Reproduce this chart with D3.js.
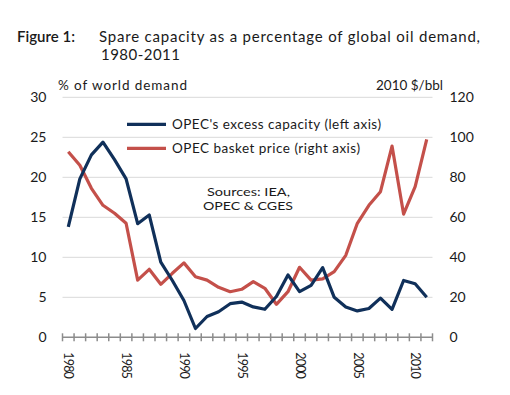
<!DOCTYPE html>
<html>
<head>
<meta charset="utf-8">
<script src="https://cdn.jsdelivr.net/npm/d3@7"></script>
<style>
  body { margin: 0; background: #fff; }
  text { font-family: Lato, 'Open Sans', sans-serif; fill: #1a1a1a; }
</style>
</head>
<body>
<script>
// Donnees
var years = d3.range(1980, 2012)
var excessCapacity = [13.8, 19.8, 22.8, 24.4, 22.2, 19.8, 14.2, 15.3, 9.4, 7.1, 4.6,
    1.1, 2.6, 3.2, 4.2, 4.4, 3.8, 3.5, 5.1, 7.8, 5.7, 6.5, 8.7, 5.0, 3.8, 3.3, 3.6, 4.9, 3.5, 7.1, 6.7, 5.0]
var basketPrice = [92.8, 86, 74.5, 66, 62, 57, 28.6, 34, 26.5, 32, 37.2,
    30.3, 28.6, 25, 22.8, 24, 27.8, 24.5, 16.5, 22.8, 35, 28.6, 29.2, 32.8, 41, 57, 66, 72.8, 95.6, 61.6, 75.3, 99]
var leftTicks = [0, 5, 10, 15, 20, 25, 30]
var rightTicks = [0, 20, 40, 60, 80, 100, 120]
var labelYears = [1980, 1985, 1990, 1995, 2000, 2005, 2010]
var legendItems = ["OPEC's excess capacity (left axis)", 'OPEC basket price (right axis)']
var legendLengths = [209, 188]

// Couleurs et dimensions
var colours = {
    blue: '#10305a',
    red: '#c4504a',
    grid: '#d9d9d9',
    axis: '#8c8c8c'
}

var width = 510
var height = 395
var plot = { left: 62.5, right: 432.5, top: 97.3, bottom: 337.3 }

var svg = d3.select('body').append('svg')
    .attr('width', width)
    .attr('height', height)

// Echelles
var x = d3.scaleBand()
    .domain(years)
    .range([plot.left, plot.right])

var yLeft = d3.scaleLinear().domain([0, 30]).range([plot.bottom, plot.top])
var yRight = d3.scaleLinear().domain([0, 120]).range([plot.bottom, plot.top])

var cx = (d) => x(d) + x.bandwidth() / 2

// Titre
var title = svg.append('g').attr('font-size', '15px')
title.append('text').attr('x', 17).attr('y', 42).attr('font-weight', 600)
    .attr('textLength', 58).attr('lengthAdjust', 'spacing').text('Figure 1:')
title.append('text').attr('x', 99).attr('y', 42)
    .attr('textLength', 381).attr('lengthAdjust', 'spacing')
    .text('Spare capacity as a percentage of global oil demand,')
title.append('text').attr('x', 101).attr('y', 60)
    .attr('textLength', 79).attr('lengthAdjust', 'spacing').text('1980-2011')

// Titres des axes
svg.append('text').attr('x', 58).attr('y', 90).attr('font-size', '13.5px')
    .attr('textLength', 129).attr('lengthAdjust', 'spacing').text('% of world demand')
svg.append('text').attr('x', 376).attr('y', 90).attr('font-size', '13.5px')
    .attr('textLength', 67).attr('lengthAdjust', 'spacing').text('2010 $/bbl')

// Grille
svg.append('g')
    .selectAll('line')
    .data(leftTicks.filter((d) => d > 0))
    .join('line')
    .attr('x1', plot.left)
    .attr('x2', plot.right)
    .attr('y1', (d) => yLeft(d))
    .attr('y2', (d) => yLeft(d))
    .attr('stroke', colours.grid)
    .attr('stroke-width', 1)

// Axe gauche
var axisLeft = svg.append('g')
    .attr('transform', `translate(${plot.left},0)`)
    .call(d3.axisLeft(yLeft).tickValues(leftTicks).tickSize(0).tickPadding(16))
axisLeft.select('.domain').remove()
axisLeft.selectAll('text').attr('font-size', '14px').attr('font-family', 'Lato, sans-serif').attr('fill', '#1a1a1a')

// Axe droit
var axisRight = svg.append('g')
    .attr('transform', `translate(${plot.right},0)`)
    .call(d3.axisRight(yRight).tickValues(rightTicks).tickSize(0).tickPadding(17))
axisRight.select('.domain').remove()
axisRight.selectAll('text').attr('font-size', '14px').attr('font-family', 'Lato, sans-serif').attr('fill', '#1a1a1a')

// Axe X
svg.append('line')
    .attr('x1', plot.left)
    .attr('x2', plot.right)
    .attr('y1', plot.bottom)
    .attr('y2', plot.bottom)
    .attr('stroke', colours.axis)
    .attr('stroke-width', 1.5)

svg.append('g')
    .selectAll('line')
    .data(years.concat([2012]))
    .join('line')
    .attr('x1', (d) => d < 2012 ? x(d) : plot.right)
    .attr('x2', (d) => d < 2012 ? x(d) : plot.right)
    .attr('y1', plot.bottom - 4)
    .attr('y2', plot.bottom + 4)
    .attr('stroke', colours.axis)
    .attr('stroke-width', 1.5)

svg.append('g')
    .selectAll('text')
    .data(labelYears)
    .join('text')
    .attr('transform', (d) => `translate(${cx(d) - 3.8},${plot.bottom + 15}) rotate(90)`)
    .attr('font-size', '12.5px')
    .attr('textLength', 26.5)
    .attr('lengthAdjust', 'spacing')
    .text((d) => d)

// Lignes
var lineLeft = d3.line().x((d, i) => cx(years[i])).y((d) => yLeft(d))
var lineRight = d3.line().x((d, i) => cx(years[i])).y((d) => yRight(d))

svg.append('path')
    .attr('d', lineRight(basketPrice))
    .attr('fill', 'none')
    .attr('stroke', colours.red)
    .attr('stroke-width', 3.2)
    .attr('stroke-linejoin', 'round')

svg.append('path')
    .attr('d', lineLeft(excessCapacity))
    .attr('fill', 'none')
    .attr('stroke', colours.blue)
    .attr('stroke-width', 3.2)
    .attr('stroke-linejoin', 'round')

// Legende
var legend = svg.append('g')
    .selectAll('g')
    .data(legendItems)
    .join('g')
    .attr('transform', (d, i) => `translate(127,${124.3 + i * 24})`)

legend.append('line')
    .attr('x1', 0)
    .attr('x2', 39)
    .attr('stroke', (d, i) => i === 0 ? colours.blue : colours.red)
    .attr('stroke-width', 3.2)

legend.append('text')
    .attr('x', 45)
    .attr('y', 4.8)
    .attr('font-size', '13.5px')
    .attr('textLength', (d, i) => legendLengths[i])
    .attr('lengthAdjust', 'spacing')
    .text((d) => d)

// Sources
svg.append('text').attr('x', 207).attr('y', 196).attr('font-size', '11.5px')
    .attr('textLength', 83).attr('lengthAdjust', 'spacingAndGlyphs').text('Sources: IEA,')
svg.append('text').attr('x', 203).attr('y', 210).attr('font-size', '11.5px')
    .attr('textLength', 90).attr('lengthAdjust', 'spacingAndGlyphs').text('OPEC & CGES')
</script>
</body>
</html>
